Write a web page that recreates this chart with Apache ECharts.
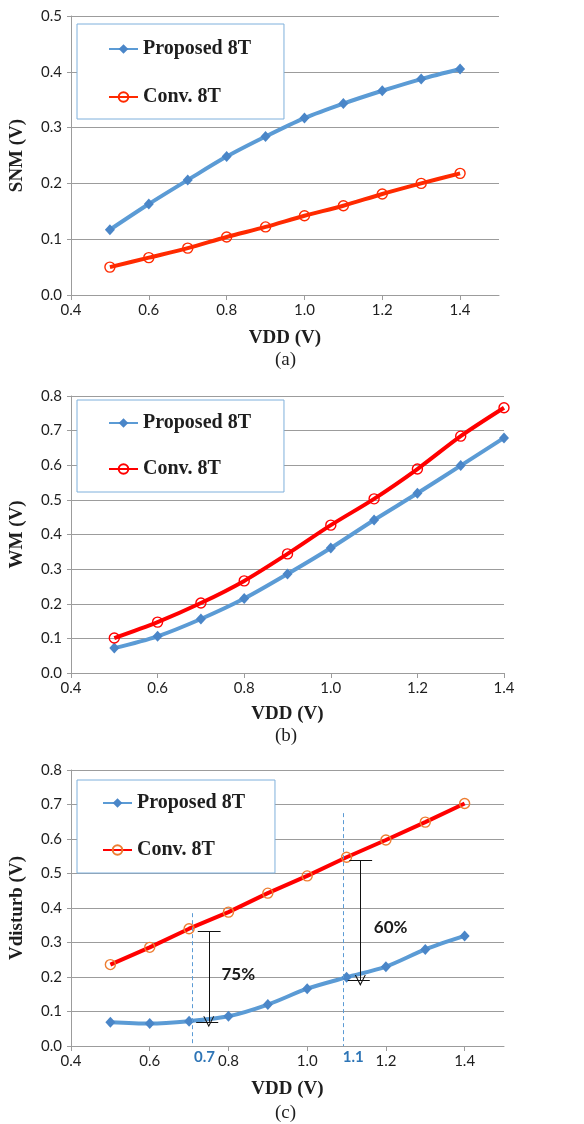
<!DOCTYPE html>
<html>
<head>
<meta charset="utf-8">
<style>
  html, body { margin: 0; padding: 0; background: #fff; }
  #chart { width: 584px; height: 1124px; }
</style>
<script src="https://cdn.jsdelivr.net/npm/echarts@6/dist/echarts.min.js"></script>
</head>
<body>
<div id="chart"></div>
<script>
// VDD sweep (V)
const vdd = [0.5, 0.6, 0.7, 0.8, 0.9, 1.0, 1.1, 1.2, 1.3, 1.4]

// (a) SNM
const snmProposed = [0.117, 0.163, 0.206, 0.248, 0.284, 0.317, 0.343, 0.366, 0.387, 0.405]
const snmConv = [0.050, 0.067, 0.084, 0.104, 0.122, 0.142, 0.160, 0.181, 0.200, 0.218]

// (b) WM
const wmProposed = [0.072, 0.106, 0.156, 0.215, 0.286, 0.361, 0.442, 0.519, 0.599, 0.679]
const wmConv = [0.101, 0.147, 0.202, 0.266, 0.344, 0.427, 0.503, 0.589, 0.684, 0.766]

// (c) Vdisturb
const vdProposed = [0.069, 0.065, 0.072, 0.086, 0.120, 0.166, 0.199, 0.230, 0.280, 0.319]
const vdConv = [0.236, 0.286, 0.340, 0.388, 0.443, 0.493, 0.547, 0.597, 0.649, 0.703]

// annotation points in panel (c), data units
const guideLines = [[0.708, 0.385], [1.091, 0.675]]              // x, yTop (down to axis)
const gapArrows = [[0.750, 0.332, 0.070], [1.135, 0.537, 0.190]]  // x, from, to
const gapLabels = [['75%', 0.825, 0.206], ['60%', 1.212, 0.343]]
const vddLabels = [['0.7', 0.739], ['1.1', 1.117]]

const GRID_C = '#9c9c9c'
const TXT_C = '#1e1e1e'
const BLUE = '#5b9bd5'
const BLUE_MK = '#4a86c8'
const RED = '#ff0000'
const ORANGE = '#ed7d31'

const pairs = ys => vdd.map((x, i) => [x, ys[i]])

function makeX(gi, max, nameGap) {
  return {
    type: 'value', gridIndex: gi, min: 0.4, max: max, interval: 0.2,
    axisLine: { show: true, onZero: false, lineStyle: { color: GRID_C } },
    axisTick: { show: true, length: 5, lineStyle: { color: GRID_C } },
    splitLine: { show: false },
    axisLabel: {
      fontFamily: 'Lato', fontSize: 15, color: TXT_C, margin: 8,
      showMaxLabel: max === 1.4,
      formatter: v => v.toFixed(1)
    },
    name: 'VDD (V)', nameLocation: 'middle', nameGap: nameGap,
    nameTextStyle: { fontFamily: 'Liberation Serif', fontWeight: 'bold', fontSize: 19, color: TXT_C }
  }
}

function makeY(gi, max, name) {
  return {
    type: 'value', gridIndex: gi, min: 0, max: max, interval: 0.1,
    axisLine: { show: true, lineStyle: { color: GRID_C } },
    axisTick: { show: true, length: 4, lineStyle: { color: GRID_C } },
    splitLine: { show: true, lineStyle: { color: GRID_C, width: 1 } },
    axisLabel: { fontFamily: 'Lato', fontSize: 15, color: TXT_C, margin: 9, formatter: v => v.toFixed(1) },
    name: name, nameLocation: 'middle', nameRotate: 90, nameGap: 44,
    nameTextStyle: { fontFamily: 'Liberation Serif', fontWeight: 'bold', fontSize: 19, color: TXT_C }
  }
}

function proposed(tag, gi, ys) {
  return {
    name: 'Proposed 8T|' + tag, type: 'line', xAxisIndex: gi, yAxisIndex: gi,
    data: pairs(ys), smooth: 0.3,
    symbol: 'diamond', symbolSize: [10, 11],
    lineStyle: { color: BLUE, width: 4 },
    itemStyle: { color: BLUE_MK },
    z: 3
  }
}

function conv(tag, gi, ys, lineC, mk, smooth) {
  return {
    name: 'Conv. 8T|' + tag, type: 'line', xAxisIndex: gi, yAxisIndex: gi,
    data: pairs(ys), smooth: smooth,
    symbol: 'circle', symbolSize: 10,
    lineStyle: { color: lineC, width: 4 },
    itemStyle: { color: 'rgba(255,255,255,0)', borderColor: mk, borderWidth: 1.4 },
    z: 3
  }
}

function makeLegend(tag, left, top, pad, gap) {
  return {
    orient: 'vertical', left: left, top: top, padding: pad, itemGap: gap,
    itemWidth: 29, itemHeight: 12,
    backgroundColor: '#fff', borderColor: '#7fb0dc', borderWidth: 1,
    data: ['Proposed 8T|' + tag, 'Conv. 8T|' + tag],
    formatter: n => n.split('|')[0],
    textStyle: { fontFamily: 'Liberation Serif', fontWeight: 'bold', fontSize: 20, color: TXT_C },
    selectedMode: false
  }
}

// panel (c) annotations
const blackLine = { color: '#111', width: 1, type: 'solid' }
const arrowHead = 'path://M0,9 L5,0 L10,9 L9,9 L5,2 L1,9 Z'
const markLines = []
guideLines.forEach(([x, y1]) => {
  markLines.push([
    { coord: [x, y1], symbol: 'none', lineStyle: { color: '#5b9bd5', width: 1, type: [4, 3] } },
    { coord: [x, 0], symbol: 'none' }
  ])
})
gapArrows.forEach(([x, y1, y2]) => {
  markLines.push([
    { coord: [x, y1], symbol: 'none', lineStyle: blackLine },
    { coord: [x, y2], symbol: arrowHead, symbolSize: [11, 11] }
  ])
  markLines.push([
    { coord: [x - 0.028, y1], symbol: 'none', lineStyle: blackLine },
    { coord: [x + 0.030, y1], symbol: 'none' }
  ])
  markLines.push([
    { coord: [x - 0.032, y2], symbol: 'none', lineStyle: blackLine },
    { coord: [x + 0.024, y2], symbol: 'none' }
  ])
})

const markPoints = []
gapLabels.forEach(([t, x, y]) => {
  markPoints.push({
    coord: [x, y], symbol: 'rect', symbolSize: 1, itemStyle: { color: 'rgba(0,0,0,0)' },
    label: { show: true, position: 'inside', formatter: t, fontFamily: 'Lato', fontWeight: 'bold', fontSize: 17, color: '#1a1a1a' }
  })
})
vddLabels.forEach(([t, x]) => {
  markPoints.push({
    coord: [x, 0], symbol: 'rect', symbolSize: 1, itemStyle: { color: 'rgba(0,0,0,0)' },
    label: { show: true, position: 'inside', offset: [0, 11], formatter: t, fontFamily: 'Lato', fontWeight: 'bold', fontSize: 15, color: '#2e75b6' }
  })
})

const seriesC = proposed('c', 2, vdProposed)
seriesC.markLine = { silent: true, animation: false, label: { show: false }, data: markLines }
seriesC.markPoint = { silent: true, animation: false, data: markPoints }

const option = {
  animation: false,
  backgroundColor: '#fff',
  grid: [
    { left: 69, top: 16, width: 430, height: 279 },
    { left: 69, top: 396, width: 435, height: 277 },
    { left: 69, top: 770, width: 435, height: 276 }
  ],
  xAxis: [makeX(0, 1.5, 34), makeX(1, 1.4, 32), makeX(2, 1.5, 34)],
  yAxis: [makeY(0, 0.5, 'SNM (V)'), makeY(1, 0.8, 'WM (V)'), makeY(2, 0.8, 'Vdisturb (V)')],
  legend: [
    makeLegend('a', 77, 24, [15, 33, 12, 31], 28),
    makeLegend('b', 77, 400, [13, 33, 13, 31], 26),
    makeLegend('c', 77, 780, [13, 30, 13, 25], 27)
  ],
  series: [
    proposed('a', 0, snmProposed),
    conv('a', 0, snmConv, '#ff2a00', '#ff2a00', 0.3),
    proposed('b', 1, wmProposed),
    conv('b', 1, wmConv, RED, RED, 0.3),
    seriesC,
    conv('c', 2, vdConv, RED, ORANGE, false)
  ],
  graphic: [
    { type: 'text', left: 275, top: 351, style: { text: '(a)', font: '19px "Liberation Serif"', fill: TXT_C } },
    { type: 'text', left: 275, top: 727, style: { text: '(b)', font: '19px "Liberation Serif"', fill: TXT_C } },
    { type: 'text', left: 275, top: 1104, style: { text: '(c)', font: '19px "Liberation Serif"', fill: TXT_C } }
  ]
}

const chart = echarts.init(document.getElementById('chart'))
chart.setOption(option)
</script>
</body>
</html>
